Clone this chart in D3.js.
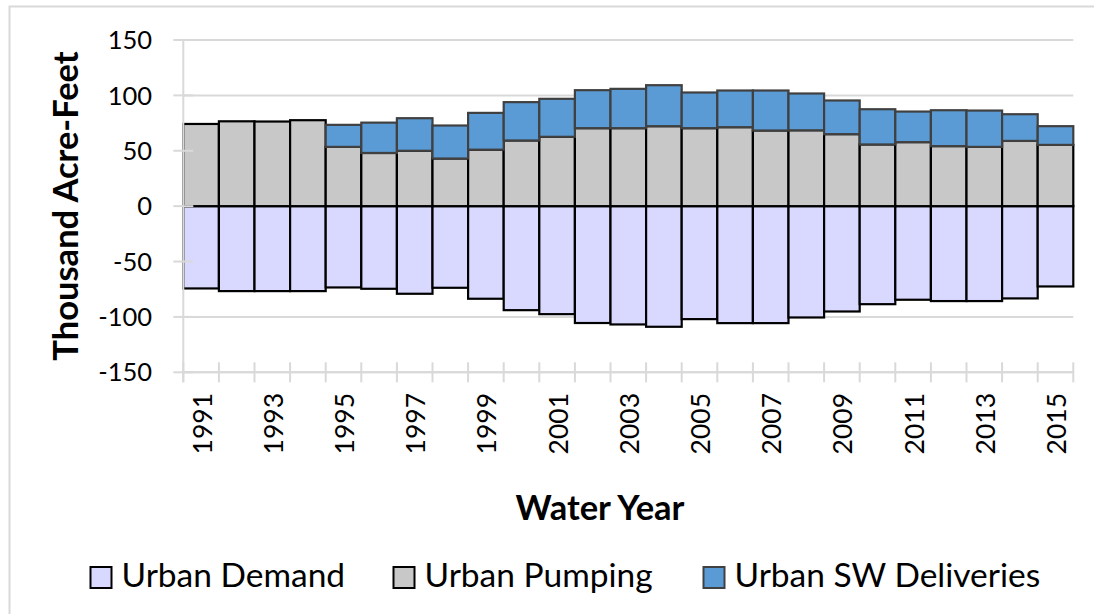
<!DOCTYPE html>
<html lang="en">
<head>
<meta charset="UTF-8">
<title>Urban Demand and Supply</title>
<style>
  body, html {
    margin: 0;
    background: #fff;
    overflow: hidden;
  }
  svg text {
    font-family: Lato, "Open Sans", sans-serif;
    fill: #000;
  }
</style>
</head>
<body>
<div id="chart"></div>

<script src="https://d3js.org/d3.v7.min.js"></script>
<script>
// values, thousand acre-feet
const years = d3.range(1991, 2016);
const pumping = [74.2, 76.6, 76.4, 77.6, 53.5, 48, 50, 43, 51, 59.3, 62.6, 70.4, 70.4, 72.2, 70.4,
                 71.3, 68.3, 68.5, 65, 55.7, 57.8, 54.2, 53.5, 58.9, 55.3];
const swDeliveries = [0, 0, 0, 0, 19.9, 27.4, 29.4, 29.8, 33.2, 34.6, 34.3, 34.3, 35.5, 37, 32.2,
                      33.1, 36.1, 33.2, 30.4, 31.8, 27.6, 32.4, 32.8, 24.1, 16.9];
const demand = [-74.3, -76.7, -76.7, -76.7, -73.4, -74.6, -79.1, -73.7, -83.6, -93.9, -97.5, -105.5,
                -106.8, -108.9, -102, -105.6, -105.6, -100.5, -95.1, -88.5, -84.5, -85.7, -85.7, -83.3, -72.5];
const yTicks = [-150, -100, -50, 0, 50, 100, 150];
const legendItems = ["Urban Demand", "Urban Pumping", "Urban SW Deliveries"];

const W = 1094, H = 614;
const plot = { left: 183.3, right: 1073.3, top: 40, bottom: 372.3 };
const gridColor = "#d9d9d9";

const svg = d3.select("#chart").append("svg")
  .attr("width", W)
  .attr("height", H);

// chart border (only top/left edges fall inside the picture)
svg.append("rect")
  .attr("x", 9.5).attr("y", 6.5)
  .attr("width", 1200).attr("height", 700)
  .attr("fill", "none")
  .attr("stroke", gridColor)
  .attr("stroke-width", 2);

const x = d3.scaleBand()
  .domain(years)
  .range([plot.left, plot.right])
  .padding(0);

const y = d3.scaleLinear()
  .domain([-150, 150])
  .range([plot.bottom, plot.top]);

// gridlines
svg.append("g")
  .selectAll("line")
  .data(yTicks)
  .join("line")
  .attr("x1", plot.left).attr("x2", plot.right)
  .attr("y1", d => y(d)).attr("y2", d => y(d))
  .attr("stroke", gridColor)
  .attr("stroke-width", 2);

// bars
const bars = svg.append("g");

bars.selectAll(".demand")
  .data(years)
  .join("rect")
  .attr("class", "demand")
  .attr("x", d => x(d))
  .attr("width", x.bandwidth())
  .attr("y", y(0))
  .attr("height", (d, i) => y(demand[i]) - y(0))
  .attr("fill", "#d9d9ff")
  .attr("stroke", "#000")
  .attr("stroke-width", 2.2);

bars.selectAll(".pumping")
  .data(years)
  .join("rect")
  .attr("class", "pumping")
  .attr("x", d => x(d))
  .attr("width", x.bandwidth())
  .attr("y", (d, i) => y(pumping[i]))
  .attr("height", (d, i) => y(0) - y(pumping[i]))
  .attr("fill", "#c8c8c8")
  .attr("stroke", "#000")
  .attr("stroke-width", 2.2);

bars.selectAll(".sw")
  .data(years.filter((d, i) => swDeliveries[i] > 0))
  .join("rect")
  .attr("class", "sw")
  .attr("x", d => x(d))
  .attr("width", x.bandwidth())
  .attr("y", d => { const i = years.indexOf(d); return y(pumping[i] + swDeliveries[i]); })
  .attr("height", d => { const i = years.indexOf(d); return y(pumping[i]) - y(pumping[i] + swDeliveries[i]); })
  .attr("fill", "#5b9bd5")
  .attr("stroke", "#404040")
  .attr("stroke-width", 2.2);

// axes drawn over the bars (light grey, cross ticks like Excel)
const axes = svg.append("g").attr("stroke", gridColor).attr("stroke-width", 2);

axes.append("line")
  .attr("x1", plot.left).attr("x2", plot.left)
  .attr("y1", plot.top).attr("y2", plot.bottom + 10);

axes.append("line")
  .attr("x1", plot.left).attr("x2", plot.right)
  .attr("y1", plot.bottom).attr("y2", plot.bottom);

axes.selectAll(".ytick")
  .data(yTicks)
  .join("line")
  .attr("class", "ytick")
  .attr("x1", plot.left - 10).attr("x2", plot.left + 10)
  .attr("y1", d => y(d)).attr("y2", d => y(d));

const boundaries = years.map(d => x(d)).concat([plot.right]);
axes.selectAll(".xtick")
  .data(boundaries)
  .join("line")
  .attr("class", "xtick")
  .attr("x1", d => d).attr("x2", d => d)
  .attr("y1", plot.bottom - 10).attr("y2", plot.bottom + 10);

// tick labels
svg.append("g")
  .selectAll("text")
  .data(yTicks)
  .join("text")
  .attr("x", 152)
  .attr("y", d => y(d))
  .attr("dy", "0.36em")
  .attr("text-anchor", "end")
  .attr("font-size", 25.5)
  .text(d => d);

svg.append("g")
  .selectAll("text")
  .data(years.filter((d, i) => i % 2 === 0))
  .join("text")
  .attr("transform", d => `translate(${x(d) + x.bandwidth() / 2 + 1},393) rotate(-90)`)
  .attr("dy", "0.36em")
  .attr("text-anchor", "end")
  .attr("font-size", 26.5)
  .text(d => d);

// axis titles
svg.append("text")
  .attr("transform", "translate(78,206) rotate(-90)")
  .attr("text-anchor", "middle")
  .attr("font-size", 34.5)
  .attr("font-weight", "bold")
  .text("Thousand Acre-Feet");

svg.append("text")
  .attr("x", 600)
  .attr("y", 520)
  .attr("text-anchor", "middle")
  .attr("font-size", 34.5)
  .attr("font-weight", "bold")
  .text("Water Year");

// legend
const legendX = [90.5, 393.5, 703.5];
const legendFill = ["#d9d9ff", "#c8c8c8", "#5b9bd5"];
const legendStroke = ["#000", "#000", "#404040"];

const legend = svg.append("g")
  .selectAll("g")
  .data(legendItems)
  .join("g")
  .attr("transform", (d, i) => `translate(${legendX[i]},567)`);

legend.append("rect")
  .attr("width", 21).attr("height", 21)
  .attr("fill", (d, i) => legendFill[i])
  .attr("stroke", (d, i) => legendStroke[i])
  .attr("stroke-width", 2);

legend.append("text")
  .attr("x", 31)
  .attr("y", 20)
  .attr("font-size", 33.5)
  .text(d => d);
</script>
</body>
</html>
